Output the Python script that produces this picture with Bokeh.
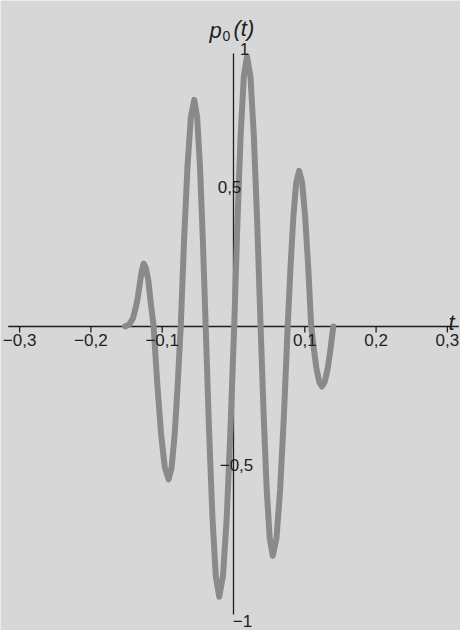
from bokeh.plotting import figure
from bokeh.models import Range1d, Label, ColumnDataSource
from bokeh.core.properties import value
from bokeh.embed import file_html
from bokeh.resources import INLINE

# ---- data ----
t = [-0.152, -0.146, -0.141, -0.137, -0.134, -0.131, -0.1285, -0.126, -0.123, -0.1195, -0.116, -0.112,
     -0.1068, -0.1015, -0.0963, -0.091, -0.0868, -0.0825, -0.0783, -0.074,
     -0.0693, -0.0645, -0.0598, -0.055, -0.051, -0.047, -0.043, -0.039,
     -0.0343, -0.0295, -0.0248, -0.020, -0.0148, -0.0095, -0.0043, 0.001,
     0.0055, 0.010, 0.0145, 0.019, 0.0238, 0.0285, 0.0333, 0.038,
     0.0423, 0.0465, 0.0508, 0.055, 0.0603, 0.0655, 0.0708, 0.076,
     0.080, 0.084, 0.088, 0.092, 0.0963, 0.1005, 0.1048, 0.109,
     0.1128, 0.1165, 0.1203, 0.124, 0.128, 0.132, 0.136, 0.140]
p0 = [0.0, 0.008, 0.03, 0.07, 0.11, 0.165, 0.205, 0.23, 0.215, 0.17, 0.085, 0.0,
      -0.214, -0.396, -0.517, -0.56, -0.517, -0.396, -0.214, 0.0,
      0.318, 0.587, 0.767, 0.83, 0.767, 0.587, 0.318, 0.0,
      -0.379, -0.700, -0.915, -0.99, -0.915, -0.700, -0.379, 0.0,
      0.379, 0.700, 0.915, 0.99, 0.915, 0.700, 0.379, 0.0,
      -0.322, -0.594, -0.776, -0.84, -0.776, -0.594, -0.322, 0.0,
      0.218, 0.403, 0.527, 0.57, 0.527, 0.403, 0.218, 0.0,
      -0.084, -0.156, -0.203, -0.22, -0.203, -0.156, -0.084, 0.0]

x_ticks = [-0.3, -0.2, -0.1, 0.1, 0.2, 0.3]
x_tick_labels = ["\u22120,3", "\u22120,2", "\u22120,1", "0,1", "0,2", "0,3"]
y_ticks = [1.0, 0.5, -0.5, -1.0]
y_tick_labels = ["1", "0,5", "\u22120,5", "\u22121"]

# ---- styling / layout ----
W, H = 460, 630
BG = "#d7d7d7"
CURVE = "#8a8a8a"
INK = "#1e1e1e"
FONT = "Liberation Sans"

X_MIN, X_MAX = -0.3268, 0.3184
Y_MIN, Y_MAX = -1.1136, 1.1941

p = figure(width=W, height=H, x_range=Range1d(X_MIN, X_MAX), y_range=Range1d(Y_MIN, Y_MAX),
           output_backend="svg", toolbar_location=None, min_border=0,
           x_axis_location=None, y_axis_location=None)
p.grid.visible = False
p.outline_line_color = None
p.background_fill_color = BG
p.border_fill_color = BG

# axes lines through the origin
p.segment(x0=[-0.316], y0=[0], x1=[0.316], y1=[0], line_color=INK, line_width=1.3)
p.segment(x0=[0], y0=[-1.055], x1=[0], y1=[1.0], line_color=INK, line_width=1.3)

# x ticks
p.segment(x0=x_ticks, y0=[0] * len(x_ticks), x1=x_ticks, y1=[-0.022] * len(x_ticks),
          line_color=INK, line_width=1.3)

# the curve (behind the tick labels)
p.line(t, p0, line_width=6, line_color=CURVE, line_join="round", line_cap="round")

# x labels
p.text(x=x_ticks, y=[0] * len(x_ticks), text=x_tick_labels, text_align="center",
       text_baseline="middle", y_offset=14, text_font=value(FONT), text_font_size="17px",
       text_color=INK)

# y labels (individual offsets as in the original)
ysrc = ColumnDataSource(dict(x=[0] * len(y_ticks), y=y_ticks, text=y_tick_labels,
                             dx=[11, -4, 3, 9], dy=[-4.5, -2.5, 2.5, 22]))
p.text(x="x", y="y", text="text", x_offset="dx", y_offset="dy", source=ysrc,
       text_align="center", text_baseline="middle", text_font=value(FONT),
       text_font_size="17px", text_color=INK)

# axis titles
p.add_layout(Label(x=209, y=600, x_units="screen", y_units="screen", text="p",
                   text_font=FONT, text_font_style="italic", text_font_size="22px",
                   text_color=INK, text_baseline="alphabetic"))
p.add_layout(Label(x=222, y=595, x_units="screen", y_units="screen", text="0",
                   text_font=FONT, text_font_size="14px", text_color=INK,
                   text_baseline="alphabetic"))
p.add_layout(Label(x=233, y=602, x_units="screen", y_units="screen", text="(t)",
                   text_font=FONT, text_font_style="italic", text_font_size="22px",
                   text_color=INK, text_baseline="alphabetic"))
p.add_layout(Label(x=448, y=308, x_units="screen", y_units="screen", text="t",
                   text_font=FONT, text_font_style="italic", text_font_size="22px",
                   text_color=INK, text_baseline="alphabetic"))

open("out.html", "w").write(file_html(p, INLINE))
